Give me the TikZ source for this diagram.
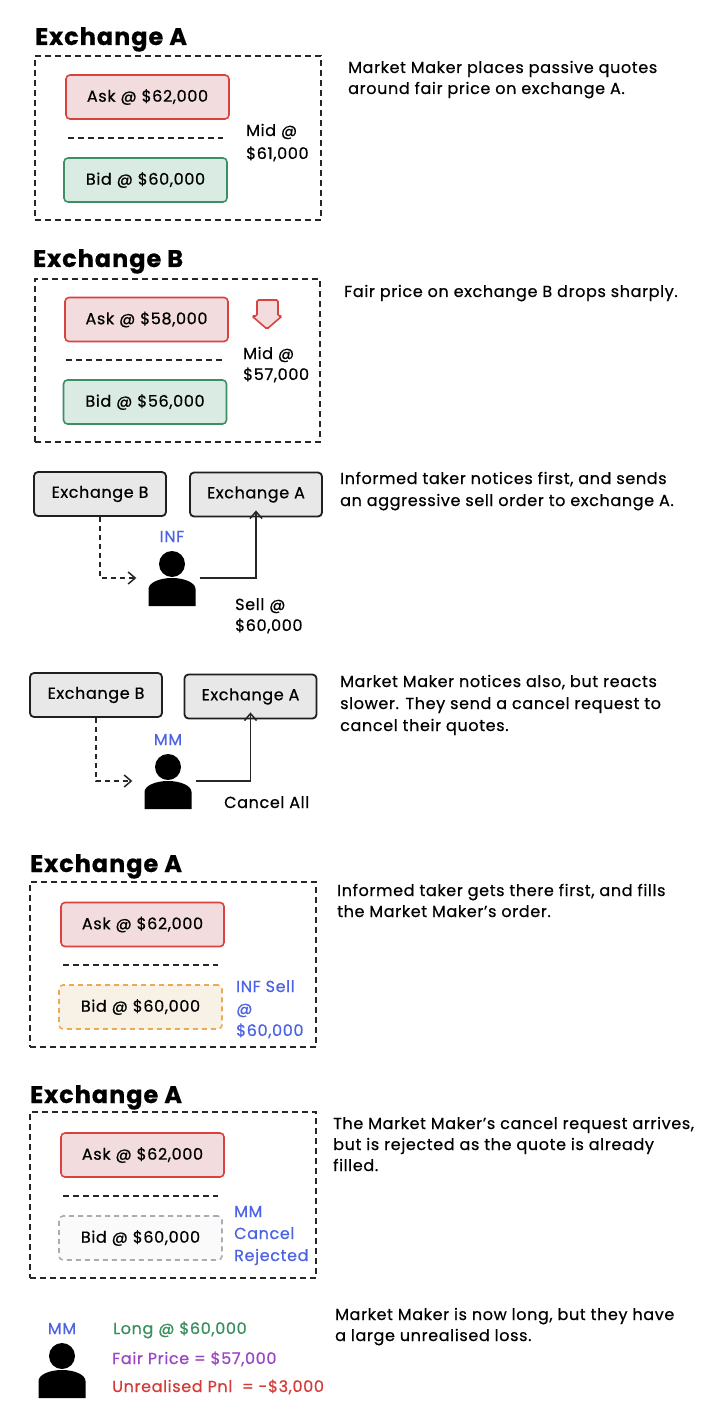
\documentclass[tikz,border=0pt]{standalone}
\usepackage{fontspec}
\setmainfont{Poppins}[FakeBold=0.6, LetterSpace=4]
\usetikzlibrary{positioning,arrows.meta}

\definecolor{askred}{HTML}{D9423F}
\definecolor{askfill}{HTML}{F2DCDD}
\definecolor{bidgreen}{HTML}{3D8F63}
\definecolor{bidfill}{HTML}{D9EBE3}
\definecolor{fillorange}{HTML}{EBAA52}
\definecolor{fillbg}{HTML}{F8F1E6}
\definecolor{gonegray}{HTML}{A8ADB3}
\definecolor{infblue}{HTML}{4C63E3}
\definecolor{longgreen}{HTML}{3A8F5F}
\definecolor{fairpurple}{HTML}{9A45C6}
\definecolor{lossred}{HTML}{D63B37}
\definecolor{exgray}{HTML}{E8E8E8}

\begin{document}
\begin{tikzpicture}[x=1pt, y=-1pt,
  font=\fontsize{16}{21}\selectfont,
  title/.style={font=\fontsize{24}{28}\selectfont\bfseries, anchor=base west, inner sep=0},
  note/.style={anchor=base west, inner sep=0, align=left},
  frame/.style={draw=black!85, line width=1.6pt, dash pattern=on 6pt off 4pt, minimum width=286, minimum height=164},
  quote/.style={line width=1.6pt, rounded corners=4pt, minimum width=163, minimum height=44},
  ask/.style={quote, draw=askred, fill=askfill},
  bid/.style={quote, draw=bidgreen, fill=bidfill},
  filled/.style={quote, draw=fillorange, fill=fillbg, dash pattern=on 5pt off 4pt},
  gone/.style={quote, draw=gonegray, fill=black!2, dash pattern=on 5pt off 4pt},
  sep/.style={draw=black!85, line width=1.4pt, dash pattern=on 6pt off 4pt},
  exch/.style={draw=black!88, fill=exgray, line width=1.8pt, rounded corners=4pt, minimum width=132, minimum height=44},
  who/.style={text=infblue, inner sep=0},
  body/.style={minimum width=47, minimum height=55, inner sep=0},
  link/.style={draw=black!85, line width=1.5pt, -{Straight Barb[length=7pt,width=12pt]}},
  hint/.style={dash pattern=on 5pt off 4pt},
  person/.pic={
    \fill (0,-14) circle[radius=13];
    \fill (-23.5,28) -- (-23.5,11) arc[start angle=180, end angle=360, x radius=23.5, y radius=11] -- (23.5,28) -- cycle;
  }]

\useasboundingbox[fill=white] (0,0) rectangle (720,1420);

% exchange A, quotes
\node[title] (ta1) at (35,45) {Exchange A};
\node[frame] (boxa1) at (178,138) {};
\node[ask] (ask1) at (147.5,97) {Ask @ \$62,000};
\node[bid] (bid1) at (145.5,180) {Bid @ \$60,000};
\draw[sep] (68,138) -- (223,138);
\node[note, font=\fontsize{16}{23}\selectfont] (mid1) at (246,159) {Mid @\\\$61,000};
\node[note] (n1) at (348,94) {Market Maker places passive quotes\\around fair price on exchange A.};

% exchange B, price drop
\node[title] (tb) at (33,267) {Exchange B};
\node[frame, minimum width=285, minimum height=163] (boxb) at (177.5,360.5) {};
\node[ask] (ask2) at (146.5,319.5) {Ask @ \$58,000};
\node[bid] (bid2) at (145,402) {Bid @ \$56,000};
\draw[sep] (66,360) -- (222,360);
\draw[askred, fill=askfill, line width=1.6pt, rounded corners=1.5pt]
  (257,300) -- (278,300) -- (278,316) -- (282,316) -- (267,329) -- (252,316) -- (257,316) -- cycle;
\node[note] (mid2) at (243,380) {Mid @\\\$57,000};
\node[note] (n2) at (344,297) {Fair price on exchange B drops sharply.};

% informed taker
\node[exch] (exb1) at (100,494) {Exchange B};
\node[exch] (exa1) at (256,494.5) {Exchange A};
\node[body] (inf) at (172,578) {};
\pic at (inf) {person};
\node[who] (inflabel) [above=8pt of inf] {INF};
\draw[link, hint] (exb1.south) |- ([xshift=-12pt]inf.west);
\draw[link] ([xshift=4pt]inf.east) -| ([yshift=7pt]exa1.south);
\node[note] (sell) at (235,631) {Sell @\\\$60,000};
\node[note, font=\fontsize{16}{22}\selectfont] (n3) at (340,506) {Informed taker notices first, and sends\\an aggressive sell order to exchange A.};

% market maker
\node[exch] (exb2) at (96,695) {Exchange B};
\node[exch] (exa2) at (250.5,696.5) {Exchange A};
\node[body] (mm) at (168,781) {};
\pic at (mm) {person};
\node[who] (mmlabel) [above=8pt of mm] {MM};
\draw[link, hint] (exb2.south) |- ([xshift=-12pt]mm.west);
\draw[link] ([xshift=4pt]mm.east) -| ([yshift=7pt]exa2.south);
\node[note] (cancel) at (224,808) {Cancel All};
\node[note, font=\fontsize{16}{22}\selectfont] (n4) at (340,731) {Market Maker notices also, but reacts\\slower. They send a cancel request to\\cancel their quotes.};

% exchange A, fill
\node[title] (ta2) at (30,872) {Exchange A};
\node[frame, minimum height=165] (boxa2) at (173,964.5) {};
\node[ask] (ask3) at (142.5,924.5) {Ask @ \$62,000};
\node[filled] (bid3) at (140.5,1007) {Bid @ \$60,000};
\draw[sep] (63,965) -- (218,965);
\node[note, text=infblue, font=\fontsize{16}{22}\selectfont] (infsell) at (236,1036) {INF Sell\\@\\\$60,000};
\node[note] (n5) at (337,917) {Informed taker gets there first, and fills\\the Market Maker's order.};

% exchange A, rejected
\node[title] (ta3) at (30,1103) {Exchange A};
\node[frame, minimum height=166] (boxa3) at (173,1195) {};
\node[ask] (ask4) at (142.5,1155) {Ask @ \$62,000};
\node[gone] (bid4) at (140.5,1238) {Bid @ \$60,000};
\draw[sep] (63,1196) -- (218,1196);
\node[note, text=infblue, font=\fontsize{16}{22}\selectfont] (rej) at (234,1261) {MM\\Cancel\\Rejected};
\node[note] (n6) at (333,1171) {The Market Maker's cancel request arrives,\\but is rejected as the quote is already\\filled.};

% outcome
\node[body] (mm2) at (62,1370) {};
\pic at (mm2) {person};
\node[who] (mm2label) [above=8pt of mm2] {MM};
\node[note, text=longgreen] (long) at (113,1334) {Long @ \$60,000};
\node[note, text=fairpurple] (fair) at (112,1364) {Fair Price = \$57,000};
\node[note, text=lossred] (pnl) at (112,1392) {Unrealised Pnl\ \ = -\$3,000};
\node[note] (n7) at (335,1341) {Market Maker is now long, but they have\\a large unrealised loss.};

\end{tikzpicture}
\end{document}
